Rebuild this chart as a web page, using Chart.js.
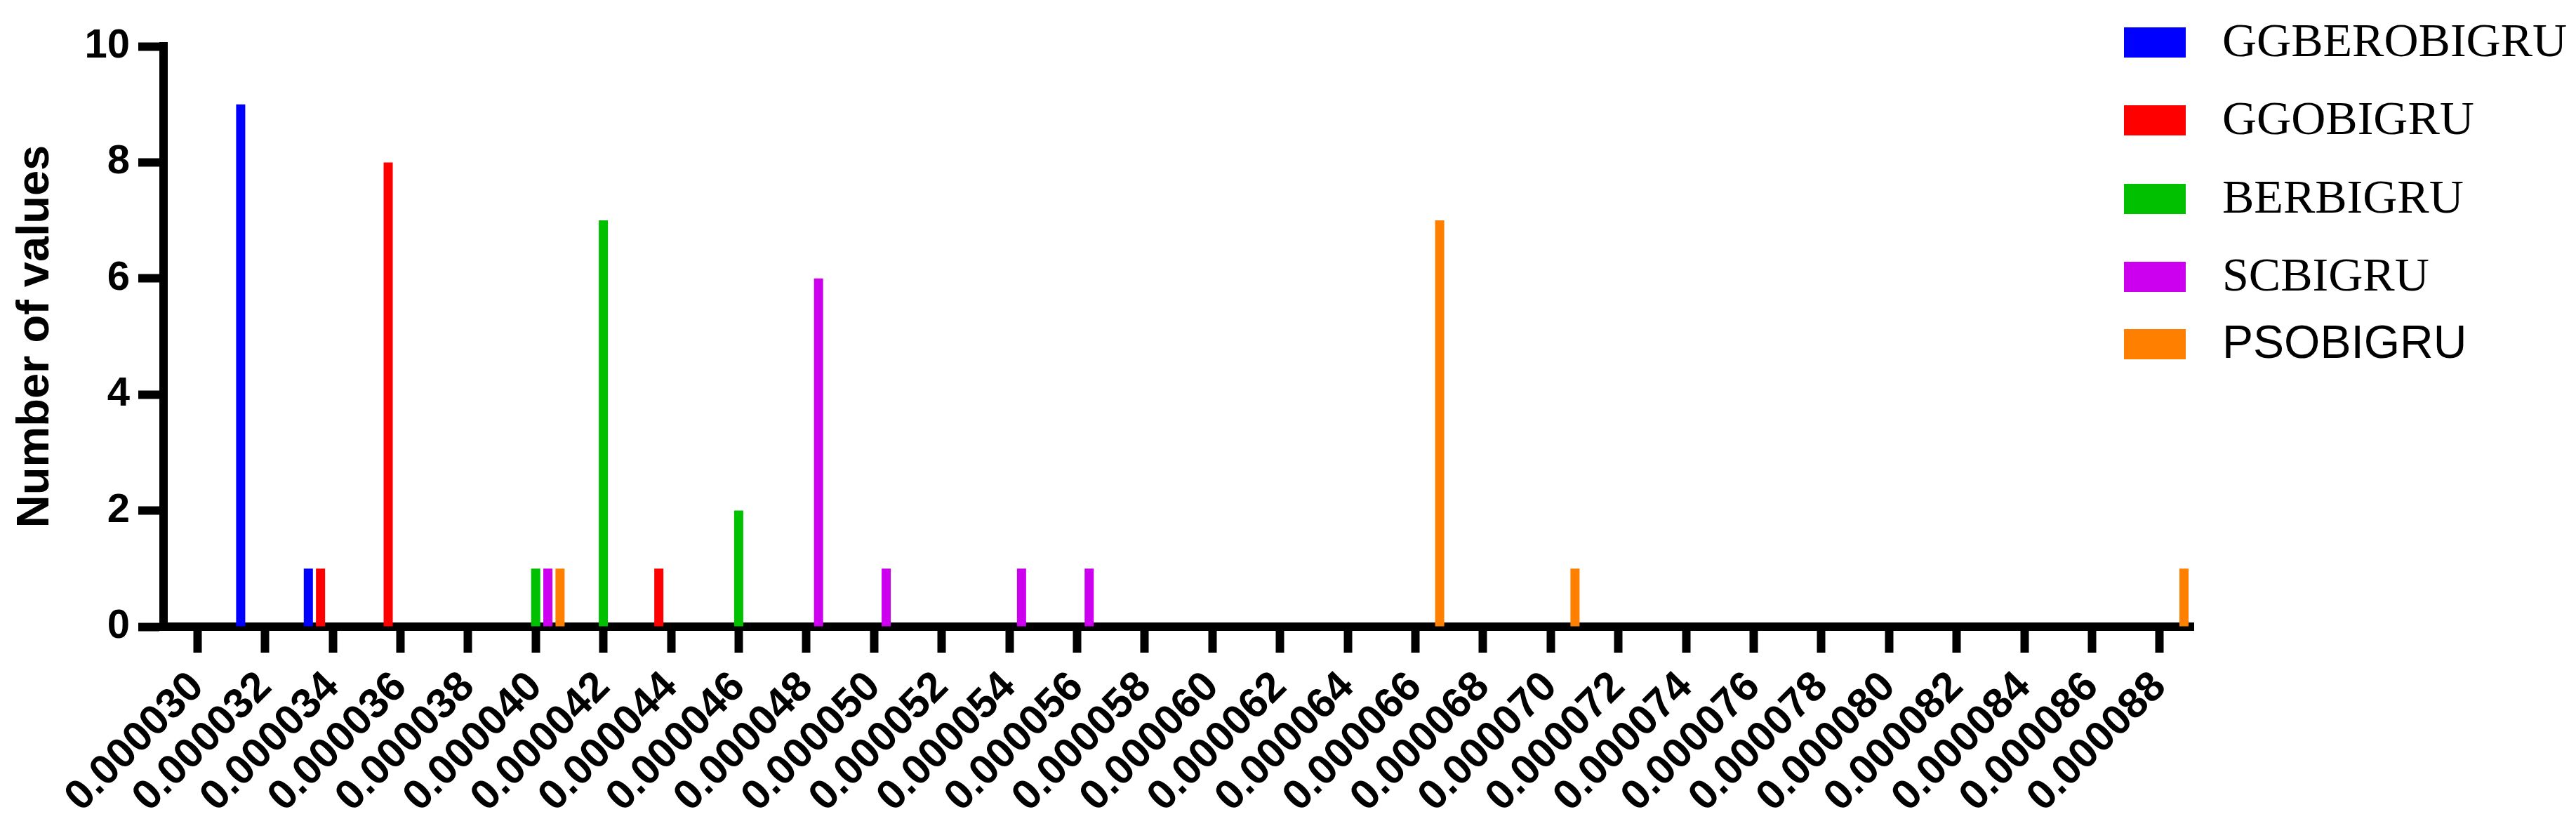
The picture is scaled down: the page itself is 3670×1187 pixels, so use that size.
<!DOCTYPE html>
<html>
<head>
<meta charset="utf-8">
<script src="https://cdn.jsdelivr.net/npm/chart.js@4.4.0/dist/chart.umd.min.js"></script>
<style>
  html, body { margin: 0; padding: 0; background: #ffffff; }
</style>
</head>
<body>
<canvas id="histogram" width="3670" height="1187"></canvas>
<script>
// bin centres (x axis tick labels)
const binLabels = [
  '0.000030', '0.000032', '0.000034', '0.000036', '0.000038', '0.000040',
  '0.000042', '0.000044', '0.000046', '0.000048', '0.000050', '0.000052',
  '0.000054', '0.000056', '0.000058', '0.000060', '0.000062', '0.000064',
  '0.000066', '0.000068', '0.000070', '0.000072', '0.000074', '0.000076',
  '0.000078', '0.000080', '0.000082', '0.000084', '0.000086', '0.000088'
];

const seriesNames = ['GGBEROBIGRU', 'GGOBIGRU', 'BERBIGRU', 'SCBIGRU', 'PSOBIGRU'];

// number of values in each bin, per model
const ggberobigruCounts = [0, 9, 1, 0, 0, 0, 0, 0, 0, 0, 0, 0, 0, 0, 0, 0, 0, 0, 0, 0, 0, 0, 0, 0, 0, 0, 0, 0, 0, 0];
const ggobigruCounts    = [0, 0, 1, 8, 0, 0, 0, 1, 0, 0, 0, 0, 0, 0, 0, 0, 0, 0, 0, 0, 0, 0, 0, 0, 0, 0, 0, 0, 0, 0];
const berbigruCounts    = [0, 0, 0, 0, 0, 1, 7, 0, 2, 0, 0, 0, 0, 0, 0, 0, 0, 0, 0, 0, 0, 0, 0, 0, 0, 0, 0, 0, 0, 0];
const scbigruCounts     = [0, 0, 0, 0, 0, 1, 0, 0, 0, 6, 1, 0, 1, 1, 0, 0, 0, 0, 0, 0, 0, 0, 0, 0, 0, 0, 0, 0, 0, 0];
const psobigruCounts    = [0, 0, 0, 0, 0, 1, 0, 0, 0, 0, 0, 0, 0, 0, 0, 0, 0, 0, 7, 0, 1, 0, 0, 0, 0, 0, 0, 0, 0, 1];

const yTicks = [0, 2, 4, 6, 8, 10];

const colors = ['#0000ff', '#ff0000', '#00c000', '#cc00ee', '#ff8000'];
const sans = 'Arial, "Liberation Sans", sans-serif';
const serif = '"Times New Roman", "Liberation Serif", serif';

// legend on the right; last entry uses a sans face like the original figure
const sideLegend = {
  id: 'sideLegend',
  afterDraw(chart) {
    const ctx = chart.ctx;
    const rowY = [60, 171, 283, 394, 490];
    const fonts = [serif, serif, serif, serif, sans];
    const sizes = [68, 68, 68, 68, 66];
    ctx.save();
    chart.data.datasets.forEach((ds, i) => {
      ctx.fillStyle = ds.backgroundColor;
      ctx.fillRect(3026, rowY[i] - 21, 88, 43);
      ctx.fillStyle = '#000';
      ctx.font = `${sizes[i]}px ${fonts[i]}`;
      ctx.textBaseline = 'middle';
      ctx.textAlign = 'left';
      ctx.fillText(ds.label, 3166, rowY[i] + 2);
    });
    ctx.restore();
  }
};

const allCounts = [ggberobigruCounts, ggobigruCounts, berbigruCounts, scbigruCounts, psobigruCounts];

new Chart(document.getElementById('histogram'), {
  type: 'bar',
  data: {
    labels: binLabels,
    datasets: seriesNames.map((name, i) => ({
      label: name,
      data: allCounts[i],
      backgroundColor: colors[i],
      borderWidth: 0,
      categoryPercentage: 0.9,
      barPercentage: 0.75
    }))
  },
  options: {
    responsive: false,
    animation: false,
    layout: { padding: { top: 66, right: 545, left: 0, bottom: 0 } },
    plugins: {
      legend: { display: false },
      tooltip: { enabled: false }
    },
    scales: {
      x: {
        type: 'category',
        offset: true,
        grid: {
          offset: false,
          drawOnChartArea: false,
          drawTicks: true,
          tickLength: 37,
          tickWidth: 12,
          tickColor: '#000'
        },
        border: { display: true, color: '#000', width: 12 },
        ticks: {
          color: '#000',
          autoSkip: false,
          maxRotation: 45,
          minRotation: 45,
          padding: 14,
          font: { family: sans, size: 60, weight: 'bold' }
        },
        afterFit(scale) { scale.height = 294; }
      },
      y: {
        min: 0,
        max: 10,
        afterBuildTicks(scale) { scale.ticks = yTicks.map(v => ({ value: v })); },
        grid: {
          drawOnChartArea: false,
          drawTicks: true,
          tickLength: 36,
          tickWidth: 12,
          tickColor: '#000'
        },
        border: { display: true, color: '#000', width: 12 },
        ticks: {
          color: '#000',
          padding: 12,
          font: { family: sans, size: 58, weight: 'bold' }
        },
        title: {
          display: true,
          text: 'Number of values',
          color: '#000',
          font: { family: sans, size: 65, weight: 'bold' },
          padding: { top: 12, bottom: 0 }
        },
        afterFit(scale) { scale.width = 233; }
      }
    }
  },
  plugins: [sideLegend]
});
</script>
</body>
</html>
